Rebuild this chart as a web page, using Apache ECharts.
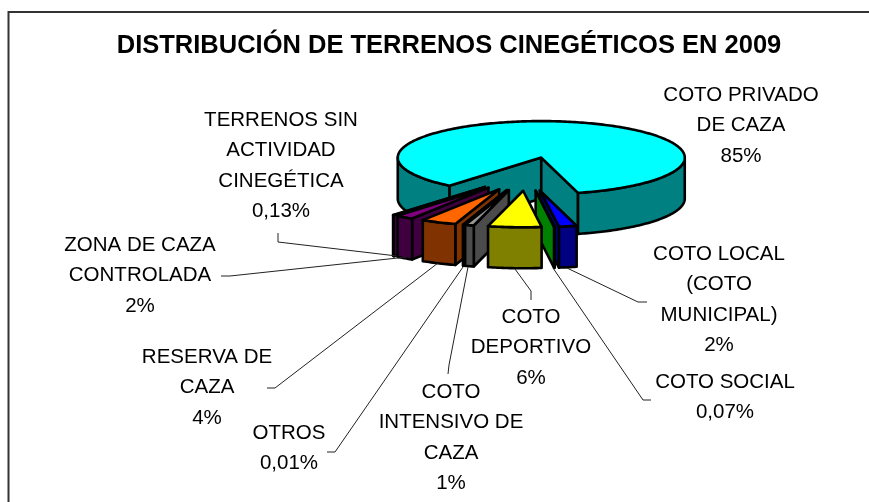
<!DOCTYPE html>
<html>
<head>
<meta charset="utf-8">
<title>Terrenos cinegéticos 2009</title>
<script src="https://cdn.jsdelivr.net/npm/echarts@6/dist/echarts.min.js"></script>
<style>
  html, body { margin: 0; padding: 0; background: #fff; }
  #chart { width: 869px; height: 502px; }
</style>
</head>
<body>
<div id="chart"></div>
<script>
// datos
const categories = [
  "COTO PRIVADO\nDE CAZA",
  "COTO LOCAL\n(COTO\nMUNICIPAL)",
  "COTO SOCIAL",
  "COTO\nDEPORTIVO",
  "COTO\nINTENSIVO DE\nCAZA",
  "OTROS",
  "RESERVA DE\nCAZA",
  "ZONA DE CAZA\nCONTROLADA",
  "TERRENOS SIN\nACTIVIDAD\nCINEGÉTICA",
];
const values = [85, 2, 0.07, 6, 1, 0.01, 4, 2, 0.13];

// estilo de cada porción
const topColors = ["#00ffff", "#0000ff", "#00ff00", "#ffff00", "#969696", "#c0c0c0", "#ff6600", "#800080", "#ff00ff"];
const sideColors = ["#008080", "#000080", "#008000", "#808000", "#4b4b4b", "#606060", "#803300", "#400040", "#800080"];
const drawOrder = [0, 8, 7, 6, 5, 4, 1, 2, 3];

// geometría del pastel
const pieCx = 527, pieCy = 174, rx = 143.5, ry = 36.5, depth = 41, explode = 0.46;
const startAngle = 219.8;

// posición de las etiquetas: [x centro, y de la primera línea]
const labelPos = [[741, 95], [719, 254], [725, 382], [531, 317], [451, 392], [289, 433], [207, 357], [140, 245], [281, 120]];
const leaders = [
  null,
  [[647, 302], [638, 302], [567, 268]],
  [[651, 400], [643, 400], [553, 268]],
  [[531, 300], [531, 291], [515, 269]],
  [[448, 374], [449, 365], [468, 267]],
  [[327, 452], [335, 452], [463, 267]],
  [[267, 388], [275, 388], [438, 263]],
  [[221, 276], [230, 276], [407, 257]],
  [[278, 233], [278, 242], [397, 256]],
];

const total = values.reduce((a, b) => a + b, 0);
const rad = (d) => (d * Math.PI) / 180;

function buildSlice(i) {
  let before = 0;
  for (let k = 0; k < i; k++) before += values[k];
  const a0 = startAngle + (before / total) * 360;
  const a1 = a0 + (values[i] / total) * 360;
  const mid = rad((a0 + a1) / 2);
  const cx = pieCx + explode * rx * Math.sin(mid);
  const cy = pieCy - explode * ry * Math.cos(mid);
  const pt = (a, dy) => [cx + rx * Math.sin(rad(a)), cy - ry * Math.cos(rad(a)) + (dy || 0)];

  const order = drawOrder.indexOf(i) * 10;
  const style = { stroke: "#000", lineWidth: 2.6, lineJoin: "round" };
  const poly = (points, fill, z) => ({
    type: "polygon",
    shape: { points },
    style: Object.assign({ fill }, style),
    z2: order + z,
  });
  const parts = [];

  // caras laterales
  [a0, a1].forEach((a, idx) => {
    const s = Math.sin(rad(a));
    if ((idx === 0 && s < 0) || (idx === 1 && s > 0)) {
      parts.push(poly([[cx, cy], pt(a), pt(a, depth), [cx, cy + depth]], sideColors[i], 1));
    }
  });

  // borde exterior y cara superior
  const arc = [];
  const steps = Math.max(2, Math.ceil(a1 - a0));
  let run = [];
  const flush = () => {
    if (run.length > 1) {
      const low = run.map((a) => pt(a, depth)).reverse();
      parts.push(poly(run.map((a) => pt(a)).concat(low), sideColors[i], 2));
    }
    run = [];
  };
  for (let k = 0; k <= steps; k++) {
    const a = a0 + ((a1 - a0) * k) / steps;
    arc.push(pt(a));
    if (Math.cos(rad(a)) < 0) run.push(a);
    else flush();
  }
  flush();
  parts.push(poly([[cx, cy]].concat(arc), topColors[i], 3));
  return parts;
}

function buildLabel(i) {
  const parts = [];
  const lead = leaders[i];
  if (lead) {
    parts.push({
      type: "polyline",
      shape: { points: lead },
      style: { stroke: "#222", lineWidth: 1, fill: null },
      z2: 200,
    });
  }
  const pct = String(values[i]).replace(".", ",") + "%";
  parts.push({
    type: "text",
    style: {
      text: categories[i] + "\n" + pct,
      x: labelPos[i][0],
      y: labelPos[i][1] - 15,
      align: "center",
      verticalAlign: "top",
      font: '20.5px "Liberation Sans", Arial, sans-serif',
      lineHeight: 30.5,
      fill: "#000",
    },
    z2: 201,
  });
  return parts;
}

const chart = echarts.init(document.getElementById("chart"));
chart.setOption({
  animation: false,
  backgroundColor: "#fff",
  title: {
    text: "DISTRIBUCIÓN DE TERRENOS CINEGÉTICOS EN 2009",
    left: 444,
    top: 28,
    textAlign: "center",
    textStyle: { fontFamily: '"Liberation Sans", Arial, sans-serif', fontSize: 25.5, fontWeight: "bold", color: "#000" },
  },
  graphic: [
    {
      type: "polyline",
      shape: { points: [[8.5, 502], [8.5, 12], [869, 12]] },
      style: { stroke: "#333", lineWidth: 2, fill: null },
    },
  ],
  series: [
    {
      type: "custom",
      coordinateSystem: "none",
      silent: true,
      data: values.map((v) => [v]),
      renderItem: (params) => ({
        type: "group",
        children: buildSlice(params.dataIndex).concat(buildLabel(params.dataIndex)),
      }),
    },
  ],
});
</script>
</body>
</html>
